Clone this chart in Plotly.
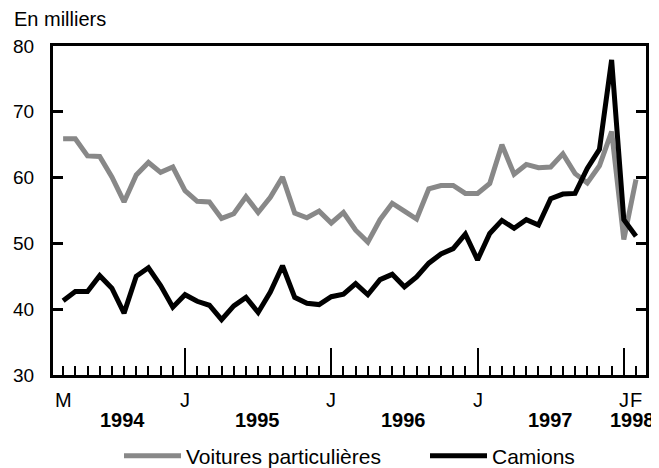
import plotly.graph_objects as go

# Months: March 1994 .. February 1998
months = (
    [f"1994-{m:02d}" for m in range(3, 13)]
    + [f"1995-{m:02d}" for m in range(1, 13)]
    + [f"1996-{m:02d}" for m in range(1, 13)]
    + [f"1997-{m:02d}" for m in range(1, 13)]
    + ["1998-01", "1998-02"]
)

voitures = [
    65.9, 65.9, 63.3, 63.2, 60.1, 56.3, 60.4, 62.3, 60.8, 61.6,
    58.0, 56.4, 56.3, 53.8, 54.5, 57.1, 54.7, 57.0, 60.1, 54.6, 53.9, 54.9,
    53.1, 54.7, 52.0, 50.2, 53.6, 56.1, 54.9, 53.7, 58.3, 58.8, 58.8, 57.6,
    57.6, 59.1, 65.0, 60.5, 62.0, 61.5, 61.6, 63.6, 60.6, 59.2, 61.8, 67.0,
    50.6, 59.7,
]

camions = [
    41.3, 42.7, 42.7, 45.1, 43.2, 39.4, 45.0, 46.3, 43.6, 40.3,
    42.2, 41.2, 40.6, 38.4, 40.5, 41.8, 39.5, 42.6, 46.6, 41.8, 40.9, 40.7,
    41.9, 42.3, 43.9, 42.2, 44.5, 45.3, 43.4, 44.9, 47.0, 48.4, 49.2, 51.4,
    47.5, 51.5, 53.5, 52.3, 53.6, 52.8, 56.8, 57.5, 57.6, 61.4, 64.3, 77.9,
    53.6, 51.1,
]

series_names = ["Voitures particulières", "Camions"]
y_ticks = [30, 40, 50, 60, 70, 80]
month_letters = {"01": "J", "02": "F", "03": "M"}
years = ["1994", "1995", "1996", "1997", "1998"]

idx = list(range(len(months)))
jan_idx = [i for i, m in enumerate(months) if m.endswith("-01")]

FONT = "Liberation Sans, Arial, sans-serif"
PW, PH = 593, 329  # plot area size in px
X_RANGE = [-0.83, 47.82]
Y_RANGE = [30, 80]

fig = go.Figure()
fig.add_trace(go.Scatter(
    x=idx, y=voitures, mode="lines", name=series_names[0],
    line=dict(color="#888888", width=5), hovertext=months, legendwidth=234,
))
fig.add_trace(go.Scatter(
    x=idx, y=camions, mode="lines", name=series_names[1],
    line=dict(color="#000000", width=5), hovertext=months,
))

annotations = []
label_idx = [0] + jan_idx + [len(months) - 1]
for i in label_idx:
    annotations.append(dict(
        x=i, y=-25 / PH, xref="x", yref="paper", showarrow=False,
        text=month_letters[months[i][5:]], font=dict(size=20, color="black", family=FONT),
        xanchor="center", yanchor="middle",
    ))
year_pos = [4.9, 15.95, 27.95, 39.95, 46.7]
for yr, xp in zip(years, year_pos):
    annotations.append(dict(
        x=xp, y=-45 / PH, xref="x", yref="paper", showarrow=False,
        text=f"<b>{yr}</b>", font=dict(size=20, color="black", family=FONT),
        xanchor="center", yanchor="middle",
    ))
annotations.append(dict(
    x=-41 / PW, y=1 + 27 / PH, xref="paper", yref="paper", showarrow=False,
    text="En milliers", font=dict(size=20, color="black", family=FONT),
    xanchor="left", yanchor="middle",
))

fig.update_layout(
    template="none",
    width=651, height=468,
    margin=dict(l=45, r=13, t=38, b=101, pad=0, autoexpand=False),
    paper_bgcolor="white", plot_bgcolor="white",
    font=dict(family=FONT, size=19, color="black"),
    showlegend=True,
    legend=dict(
        orientation="h", x=66 / PW, xanchor="left", y=-81 / PH, yanchor="middle",
        font=dict(size=21, color="black", family=FONT),
        bgcolor="rgba(0,0,0,0)", borderwidth=0, itemwidth=57,
    ),
    annotations=annotations,
    xaxis=dict(
        range=X_RANGE, showgrid=False, zeroline=False, automargin=False,
        showline=True, linecolor="#000000", linewidth=3, mirror=True,
        tickmode="array", tickvals=jan_idx, ticks="inside", ticklen=27,
        tickwidth=2, tickcolor="#000000", showticklabels=False,
        minor=dict(tick0=0, dtick=1, ticks="inside", ticklen=9,
                   tickwidth=2, tickcolor="#000000", showgrid=False),
    ),
    yaxis=dict(
        range=Y_RANGE, showgrid=False, zeroline=False, automargin=False,
        showline=True, linecolor="#000000", linewidth=3, mirror="ticks",
        tickmode="array", tickvals=y_ticks, ticks="inside", ticklen=10,
        tickwidth=3, tickcolor="#000000", ticklabelstandoff=12,
        tickfont=dict(size=19, color="black", family=FONT),
    ),
)

fig.write_html("out.html")
